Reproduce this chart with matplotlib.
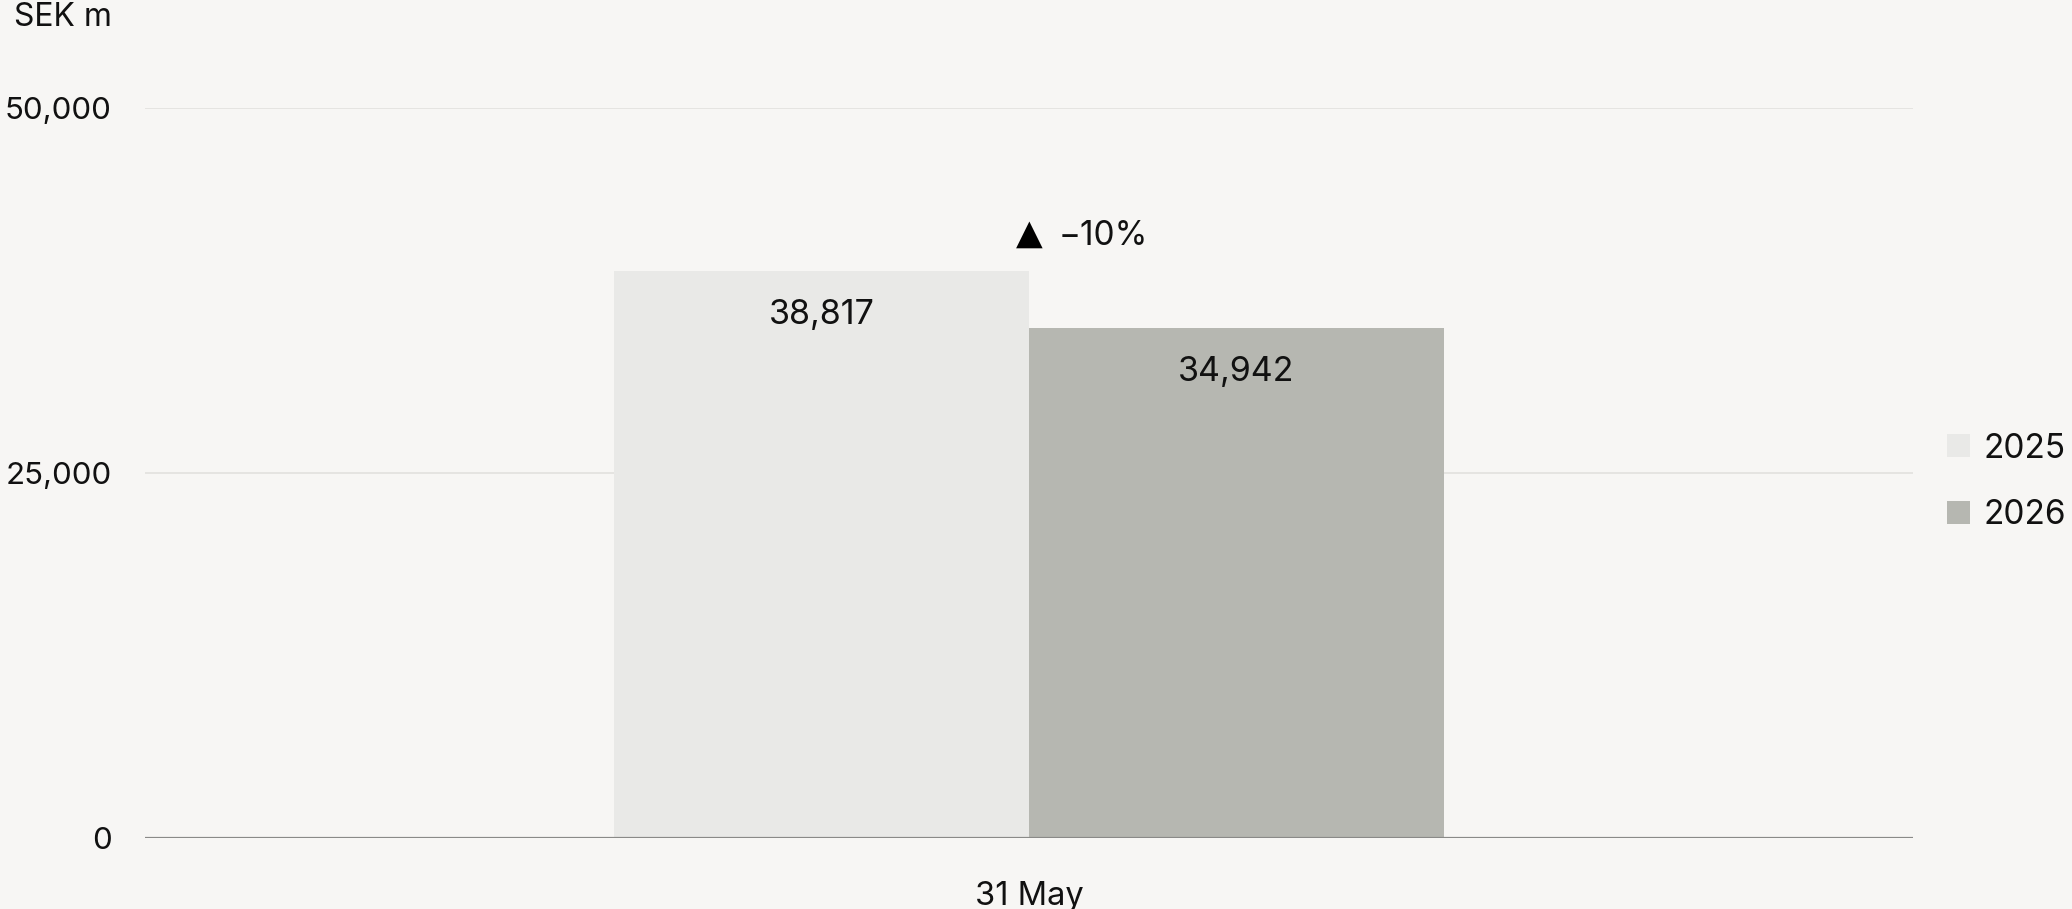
import matplotlib
matplotlib.use("Agg")
import matplotlib.pyplot as plt
from matplotlib.patches import Patch

# Data
categories = ["31 May"]
series_names = ["2025", "2026"]
values_2025 = [38817]
values_2026 = [34942]
change_label = "\u221210%"
y_ticks = [0, 25000, 50000]
y_tick_labels = ["0", "25,000", "50,000"]
unit_label = "SEK m"

BG = "#f7f6f4"
COLORS = ["#e9e9e7", "#b6b7b1"]
TEXT = "#111111"

plt.rcParams["font.family"] = ["Inter", "DejaVu Sans"]

fig = plt.figure(figsize=(20.72, 9.09), dpi=100, facecolor=BG)
ax = fig.add_axes([145 / 2072, 1 - 838 / 909, (1913 - 145) / 2072, (838 - 108) / 909])
ax.set_facecolor(BG)

width = 0.2345
x = list(range(len(categories)))
bars1 = ax.bar([i - width / 2 for i in x], values_2025, width, color=COLORS[0], zorder=2)
bars2 = ax.bar([i + width / 2 for i in x], values_2026, width, color=COLORS[1], zorder=2)

ax.set_xlim(-0.5, 0.5)
ax.set_ylim(0, 50000)

# Gridlines and baseline
for t in y_ticks[1:]:
    ax.axhline(t, color="#e2e1de", lw=1.2, zorder=1)
ax.axhline(0, color="#8a8a88", lw=1.6, zorder=3)

for s in ax.spines.values():
    s.set_visible(False)

ax.set_yticks(y_ticks)
ax.set_yticklabels(y_tick_labels, fontsize=22.5, color=TEXT)
ax.tick_params(axis="y", length=0, pad=24)
ax.set_xticks(x)
ax.set_xticklabels(categories, fontsize=23.5, color=TEXT)
ax.tick_params(axis="x", length=0, pad=31)

# Value labels inside the bars
for bars, vals in ((bars1, values_2025), (bars2, values_2026)):
    for b, v in zip(bars, vals):
        ax.annotate(f"{v:,}", (b.get_x() + b.get_width() / 2, v),
                    xytext=(0, -31.5), textcoords="offset points",
                    ha="center", va="center", fontsize=24.5, color=TEXT)

# Change indicator above the pair
for i in x:
    top = max(values_2025[i], values_2026[i])
    ax.annotate("\u25B2", (i, top), xytext=(0, 27), textcoords="offset points",
                ha="center", va="center", fontsize=25, color="#000000",
                family=["DejaVu Sans"])
    ax.annotate(change_label, (i, top), xytext=(21, 25.5), textcoords="offset points",
                ha="left", va="center", fontsize=24, color=TEXT)

fig.text(14 / 2072, 1 - 17 / 909, unit_label, fontsize=23, color=TEXT,
         ha="left", va="center")

handles = [Patch(facecolor=c, edgecolor="none") for c in COLORS]
leg = fig.legend(handles, series_names, loc="center left",
                 bbox_to_anchor=(1947 / 2072, 1 - 482 / 909),
                 frameon=False, fontsize=24, handlelength=0.68, handleheight=0.68,
                 handletextpad=0.4, labelspacing=1.05, borderpad=0,
                 borderaxespad=0)
for t in leg.get_texts():
    t.set_color(TEXT)

fig.savefig("out.png", dpi=100, facecolor=BG)
